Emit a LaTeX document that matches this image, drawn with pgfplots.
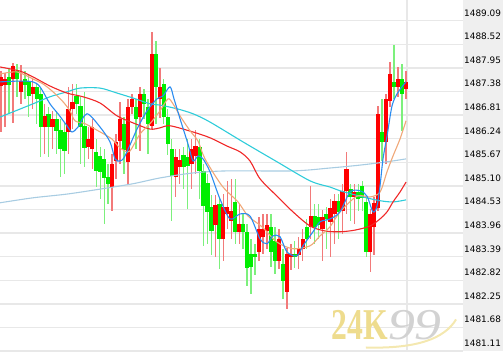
\documentclass[border=0pt]{standalone}
\usepackage{pgfplots}
\usepackage{pgfplotstable}
\pgfplotsset{compat=1.18}
\usepackage{fontspec}
\newfontfamily\lab{DejaVu Sans}
\newfontfamily\wm{Liberation Serif}
\definecolor{cred}{HTML}{FF0000}
\definecolor{cgreen}{HTML}{00EE00}
\definecolor{wred}{HTML}{F27A7A}
\definecolor{wgreen}{HTML}{7CF07C}
\definecolor{mablue}{HTML}{2A8CF0}
\definecolor{maorange}{HTML}{F0A878}
\definecolor{mared}{HTML}{F02828}
\definecolor{macyan}{HTML}{2ECCDA}
\definecolor{malight}{HTML}{A8CCE2}
\definecolor{gridc}{HTML}{E8E8E8}
\definecolor{panel}{HTML}{EFEFEF}
\definecolor{gold}{HTML}{EEDC8E}
\definecolor{goldline}{HTML}{F4E8B0}
\definecolor{grey99}{HTML}{D2D2D2}

% red = rising candles (close > open)
\pgfplotstableread{
x o h l c
0 1487.51 1487.88 1486.40 1487.73
1 1487.54 1487.83 1486.52 1487.68
3 1487.68 1488.07 1486.60 1488.00
5 1487.37 1488.02 1487.08 1487.63
8 1487.32 1487.68 1486.96 1487.49
11 1486.52 1487.08 1485.87 1486.79
13 1486.52 1486.91 1485.99 1486.72
17 1486.40 1487.49 1485.87 1486.96
18 1486.96 1487.56 1486.47 1487.13
22 1486.04 1486.52 1485.75 1486.23
23 1485.99 1486.72 1485.51 1486.52
28 1485.07 1485.87 1484.49 1485.63
29 1485.70 1486.35 1485.27 1486.18
30 1486.18 1487.13 1485.63 1486.72
32 1485.70 1487.20 1485.15 1487.01
33 1487.03 1487.32 1486.84 1487.20
35 1486.76 1487.49 1485.94 1487.32
38 1486.55 1488.82 1486.47 1488.29
40 1487.20 1487.97 1486.76 1487.49
44 1485.31 1485.99 1484.83 1485.80
45 1485.56 1485.99 1485.15 1485.75
48 1485.63 1486.23 1485.03 1485.99
49 1485.82 1486.47 1485.39 1486.06
54 1484.18 1484.90 1483.38 1484.66
56 1483.82 1484.90 1483.29 1484.61
57 1484.42 1485.22 1484.06 1484.59
58 1484.25 1485.27 1483.82 1484.49
60 1483.99 1484.66 1483.70 1484.18
65 1483.50 1484.35 1483.29 1484.06
66 1483.87 1484.42 1483.45 1484.08
67 1484.01 1484.42 1483.58 1484.16
70 1483.29 1484.06 1483.09 1483.82
72 1482.54 1483.62 1482.13 1483.45
73 1483.38 1483.70 1483.09 1483.45
75 1483.45 1483.87 1483.09 1483.62
76 1483.58 1484.06 1483.29 1483.82
78 1484.11 1485.10 1483.82 1484.37
81 1484.06 1484.54 1483.29 1484.37
83 1484.25 1484.78 1483.38 1484.59
84 1484.42 1484.90 1483.70 1484.74
86 1484.49 1485.15 1483.94 1484.98
87 1484.98 1485.92 1484.42 1485.51
89 1484.83 1485.15 1484.18 1484.95
93 1483.50 1484.54 1483.02 1484.42
94 1484.13 1484.83 1483.45 1484.71
95 1484.59 1487.03 1484.49 1486.84
97 1486.16 1487.32 1485.63 1487.20
98 1487.15 1488.10 1487.01 1487.80
100 1487.49 1487.99 1487.25 1487.68
102 1487.44 1487.88 1487.20 1487.61
}\upT

% green = falling candles
\pgfplotstableread{
x o h l c
2 1487.75 1487.92 1486.84 1487.56
4 1487.88 1488.04 1487.25 1487.68
6 1487.68 1487.88 1487.20 1487.54
7 1487.63 1487.80 1486.76 1487.27
9 1487.49 1487.58 1486.60 1487.20
10 1487.32 1487.49 1485.80 1486.52
12 1486.84 1487.01 1485.80 1486.52
14 1486.72 1486.91 1485.87 1486.43
15 1486.47 1486.72 1485.31 1485.99
16 1486.40 1486.60 1485.39 1485.94
19 1487.27 1487.56 1486.84 1487.08
20 1487.03 1487.25 1485.63 1486.52
21 1486.55 1487.37 1485.56 1486.04
24 1485.92 1486.23 1485.07 1485.46
25 1485.82 1486.04 1484.78 1485.44
26 1485.75 1485.99 1484.18 1485.31
27 1485.31 1485.63 1484.66 1485.15
31 1486.60 1486.76 1485.39 1485.99
34 1487.01 1487.20 1485.99 1486.72
36 1487.32 1487.44 1486.72 1487.08
37 1487.01 1487.20 1485.87 1486.60
39 1488.29 1488.60 1486.60 1487.49
41 1487.56 1487.68 1486.60 1486.76
42 1486.76 1486.96 1485.87 1486.11
43 1485.99 1486.23 1484.25 1485.34
46 1485.87 1486.04 1485.03 1485.56
47 1485.80 1486.23 1484.54 1485.58
50 1486.04 1486.23 1484.78 1485.46
51 1485.46 1485.63 1483.65 1484.61
52 1485.19 1485.39 1483.70 1484.47
53 1484.61 1484.90 1483.45 1484.01
55 1484.66 1484.83 1483.09 1483.82
59 1484.71 1485.27 1483.70 1483.99
61 1484.18 1484.42 1483.58 1483.99
62 1483.99 1484.18 1482.68 1483.14
63 1483.45 1483.82 1482.49 1483.14
64 1483.45 1483.70 1482.97 1483.38
68 1484.11 1484.42 1483.14 1483.50
69 1483.77 1484.11 1482.97 1483.29
71 1483.21 1483.58 1482.37 1482.80
74 1483.45 1483.77 1483.14 1483.38
77 1484.11 1484.30 1483.58 1483.82
79 1484.37 1484.66 1483.70 1484.11
80 1484.35 1484.66 1483.82 1484.16
82 1484.42 1484.59 1483.58 1484.30
85 1484.74 1484.90 1483.82 1484.49
88 1485.03 1485.15 1484.25 1484.83
90 1484.95 1485.15 1484.49 1484.78
91 1485.10 1485.22 1484.49 1484.83
92 1484.71 1484.83 1483.38 1483.50
96 1486.40 1487.20 1485.70 1486.16
99 1487.61 1488.50 1487.20 1487.49
101 1487.68 1488.04 1486.43 1487.32
}\downT

\begin{document}
\begin{tikzpicture}
\fill[panel] (463pt,0pt) rectangle (503pt,351pt);
\begin{axis}[
  at={(0pt,0pt)}, anchor=south west,
  scale only axis, width=463pt, height=351pt,
  xmin=-0.252, xmax=116.37,
  ymin=1481.11, ymax=1489.588,
  axis line style={draw=none},
  xtick=\empty,
  ytick={1481.11,1481.68,1482.25,1482.82,1483.39,1483.96,1484.53,1485.10,1485.67,1486.24,1486.81,1487.38,1487.95,1488.52,1489.09},
  yticklabel pos=right,
  ymajorgrids,
  grid style={draw=gridc, line width=1.4pt},
  major tick length=0pt,
  tick style={draw=none},
  yticklabel style={anchor=base west, inner sep=0pt, xshift=1pt, yshift=4.6pt,
    font=\lab\fontsize{8.9}{10}\selectfont, text=black},
  /pgf/number format/fixed,
  /pgf/number format/fixed zerofill,
  /pgf/number format/precision=2,
  /pgf/number format/1000 sep={},
  /pgf/number format/assume math mode=true,
  clip=true,
]
\draw[gridc, line width=1.4pt] (axis cs:102.27,1481.11) -- (axis cs:102.27,1489.588);

% wicks
\addplot[draw=none, mark=none, forget plot,
  error bars/.cd, y dir=both, y explicit, error mark=none,
  error bar style={draw=wgreen, line width=1.4pt}]
  table[x=x, y expr={(\thisrow{h}+\thisrow{l})/2}, y error expr={(\thisrow{h}-\thisrow{l})/2}] {\downT};
\addplot[draw=none, mark=none, forget plot,
  error bars/.cd, y dir=both, y explicit, error mark=none,
  error bar style={draw=wred, line width=1.4pt}]
  table[x=x, y expr={(\thisrow{h}+\thisrow{l})/2}, y error expr={(\thisrow{h}-\thisrow{l})/2}] {\upT};
% bodies
\addplot[draw=none, mark=none, forget plot,
  error bars/.cd, y dir=both, y explicit, error mark=none,
  error bar style={draw=cgreen, line width=4.3pt}]
  table[x=x, y expr={(\thisrow{o}+\thisrow{c})/2}, y error expr={abs(\thisrow{o}-\thisrow{c})/2}] {\downT};
\addplot[draw=none, mark=none, forget plot,
  error bars/.cd, y dir=both, y explicit, error mark=none,
  error bar style={draw=cred, line width=4.3pt}]
  table[x=x, y expr={(\thisrow{o}+\thisrow{c})/2}, y error expr={abs(\thisrow{o}-\thisrow{c})/2}] {\upT};

% moving averages
\addplot[malight, line width=1.1pt, smooth, mark=none] coordinates {
(-0.25,1484.69) (8.06,1484.81) (16.62,1484.90) (24.94,1485.02) (33.25,1485.15)
(40.05,1485.29) (48.36,1485.41) (56.93,1485.46) (73.55,1485.46) (82.87,1485.53)
(90.43,1485.60) (97.23,1485.68) (102.02,1485.75)};
\addplot[macyan, line width=1.1pt, smooth, mark=none] coordinates {
(-0.25,1486.76) (8.06,1487.08) (12.34,1487.25) (16.62,1487.37) (19.90,1487.46)
(24.94,1487.46) (29.22,1487.34) (33.25,1487.22) (37.53,1487.08) (40.05,1487.05)
(44.33,1486.96) (48.36,1486.84) (52.64,1486.64) (60.96,1486.16) (69.52,1485.68)
(77.83,1485.22) (82.87,1485.07) (85.39,1484.98) (91.18,1484.83) (95.47,1484.74)
(98.74,1484.71) (102.02,1484.76)};
\addplot[mared, line width=1.1pt, smooth, mark=none] coordinates {
(-0.25,1487.97) (4.79,1487.87) (8.06,1487.73) (12.34,1487.51) (16.62,1487.34)
(20.65,1487.25) (24.94,1487.10) (29.22,1486.79) (33.25,1486.62) (37.53,1486.47)
(40.05,1486.50) (42.57,1486.55) (48.36,1486.40) (52.64,1486.26) (56.93,1486.06)
(60.20,1485.92) (62.72,1485.70) (65.24,1485.27) (69.52,1484.85) (73.55,1484.47)
(77.83,1484.13) (81.61,1484.01) (85.39,1483.99) (89.17,1484.03) (92.95,1484.13)
(95.47,1484.30) (97.23,1484.47) (98.74,1484.71) (100.50,1484.95) (102.02,1485.19)};
\addplot[maorange, line width=1.1pt, smooth, mark=none] coordinates {
(-0.25,1487.80) (4.03,1487.85) (8.06,1487.68) (10.58,1487.56) (13.10,1487.37)
(15.62,1487.13) (17.38,1486.91) (18.64,1486.67) (21.16,1486.60) (24.43,1486.43)
(27.96,1486.23) (29.47,1486.06) (31.23,1485.94) (32.49,1485.94) (35.01,1486.35)
(37.53,1486.60) (40.05,1486.91) (42.07,1487.20) (43.32,1487.08) (45.09,1486.79)
(47.61,1486.43) (49.62,1486.18) (51.39,1485.75) (55.67,1485.10) (59.70,1484.71)
(62.22,1484.37) (65.74,1484.11) (69.52,1483.74) (73.55,1483.58) (77.83,1483.65)
(80.35,1483.89) (82.87,1484.11) (85.39,1484.47) (89.67,1484.85) (92.95,1484.83)
(95.47,1484.95) (97.23,1485.44) (98.74,1485.82) (100.50,1486.23) (102.02,1486.67)};
\addplot[mablue, line width=1.1pt, smooth, mark=none] coordinates {
(-0.25,1487.61) (4.79,1487.63) (8.06,1487.61) (9.82,1487.49) (12.34,1487.08)
(14.36,1486.84) (16.62,1486.55) (17.88,1486.40) (19.40,1486.52) (21.66,1486.84)
(24.94,1486.52) (27.46,1486.16) (28.72,1485.75) (29.97,1485.70) (31.23,1485.82)
(34.26,1486.47) (36.78,1486.91) (39.29,1487.20) (40.81,1487.27) (42.57,1487.49)
(43.58,1487.20) (45.09,1486.72) (47.10,1486.11) (48.36,1485.70) (49.62,1485.82)
(50.88,1485.75) (52.64,1485.44) (55.16,1484.78) (57.68,1484.30) (60.20,1484.42)
(62.72,1484.37) (65.24,1483.82) (67.00,1483.70) (68.51,1483.89) (70.28,1483.87)
(72.04,1483.50) (74.56,1483.41) (76.07,1483.65) (78.59,1483.99) (80.35,1484.23)
(82.87,1484.30) (85.39,1484.47) (87.91,1484.95) (90.43,1484.98) (92.19,1484.85)
(93.70,1484.47) (94.71,1484.61) (95.47,1485.10) (96.22,1485.75) (97.23,1486.30)
(98.49,1487.03) (99.75,1487.32) (101.01,1487.49) (102.0,1487.61)};

% watermark
\draw[goldline, line width=2pt] (rel axis cs:0.79,0.01) .. controls (rel axis cs:0.90,0.006) and (rel axis cs:0.96,0.035) .. (rel axis cs:0.985,0.09);
\node[anchor=base west, inner sep=0pt] at (rel axis cs:0.716,0.032)
  {\wm\fontsize{44}{44}\selectfont\bfseries\scalebox{0.72}[1]{\textcolor{gold}{24K}}\scalebox{1.22}[1]{\textcolor{grey99}{\itshape\mdseries 99}}};
\end{axis}
\pgfresetboundingbox
\path[use as bounding box] (0pt,0pt) rectangle (503pt,351pt);
\end{tikzpicture}
\end{document}
